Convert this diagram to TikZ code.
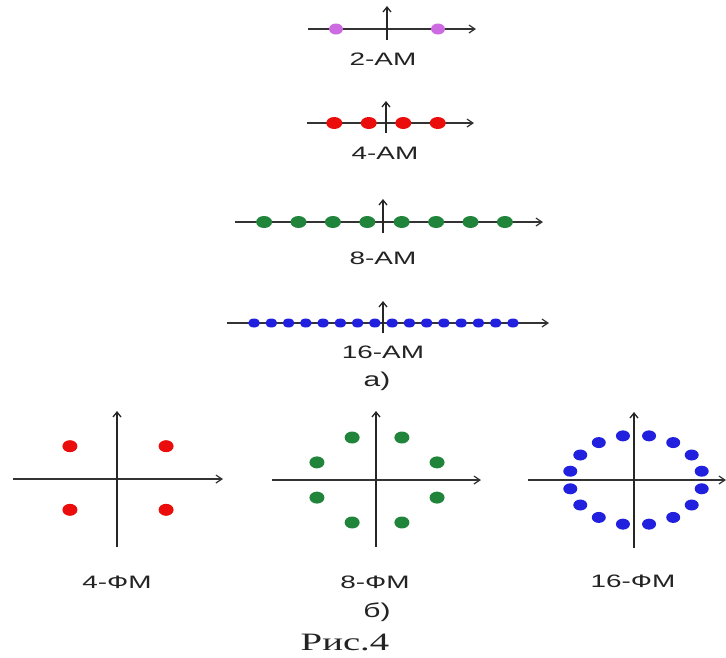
\documentclass[tikz,border=0pt]{standalone}
\usepackage{fontspec}
\setmainfont{Liberation Serif}
\setsansfont{Liberation Sans}
\usetikzlibrary{arrows.meta}
\definecolor{amviolet}{RGB}{205,105,225}
\definecolor{amred}{RGB}{235,12,12}
\definecolor{amgreen}{RGB}{32,132,58}
\definecolor{amblue}{RGB}{32,32,222}
\definecolor{txtgray}{RGB}{35,35,35}
\newcommand\widetxt[2]{\scalebox{#1}[1]{#2}}
\tikzset{
  vaxis/.style={line width=2.1pt, draw=black!85, -{Straight Barb[length=5pt,width=8pt,line width=1.3pt]}},
  haxis/.style={line width=1.3pt, draw=black!80, -{Straight Barb[length=6pt,width=8pt,line width=1.2pt]}},
  lbl/.style={font=\sffamily\fontsize{18}{18}\selectfont, text=txtgray, inner sep=0pt},
  sublbl/.style={font=\sffamily\fontsize{20}{20}\selectfont, text=txtgray, inner sep=0pt},
  caplbl/.style={font=\rmfamily\fontsize{25}{25}\selectfont, text=txtgray, inner sep=0pt},
}
\begin{document}
\begin{tikzpicture}[x=1pt,y=-1pt]
\useasboundingbox (0,0) rectangle (726,657);
% ---------- 2-AM ----------
\coordinate (h2l) at (308,29); \coordinate (h2r) at (476,29);
\coordinate (v2b) at (387,40); \coordinate (v2t) at (387,6);
\draw[haxis] (h2l) -- (h2r);
\foreach \i in {-1,1} \fill[amviolet] ({387+51*\i},29) ellipse [x radius=7pt, y radius=5.5pt];
\draw[vaxis] (v2b) -- (v2t);
\node[lbl] (l2) at (383,59) {\widetxt{1.55}{2-AM}};
% ---------- 4-AM ----------
\coordinate (h4l) at (307,123); \coordinate (h4r) at (474,123);
\coordinate (v4b) at (386,133); \coordinate (v4t) at (386,101);
\draw[haxis] (h4l) -- (h4r);
\foreach \i in {-3,-1,1,3} \fill[amred] ({386+17.25*\i},123) ellipse [x radius=8pt, y radius=6pt];
\draw[vaxis] (v4b) -- (v4t);
\node[lbl] (l4) at (385,153) {\widetxt{1.55}{4-AM}};
% ---------- 8-AM ----------
\coordinate (h8l) at (235,222); \coordinate (h8r) at (543,222);
\coordinate (v8b) at (383,233); \coordinate (v8t) at (383,199);
\draw[haxis] (h8l) -- (h8r);
\foreach \i in {-7,-5,-3,-1,1,3,5,7} \fill[amgreen] ({384.5+17.2*\i},222) ellipse [x radius=8pt, y radius=6pt];
\draw[vaxis] (v8b) -- (v8t);
\node[lbl] (l8) at (383,258) {\widetxt{1.55}{8-AM}};
% ---------- 16-AM ----------
\coordinate (h16l) at (227,323); \coordinate (h16r) at (549,323);
\coordinate (v16b) at (383,333); \coordinate (v16t) at (383,301);
\draw[haxis] (h16l) -- (h16r);
\foreach \i in {-15,-13,...,15} \fill[amblue] ({383.5+8.63*\i},323) ellipse [x radius=6pt, y radius=4.5pt];
\draw[vaxis] (v16b) -- (v16t);
\node[lbl] (l16) at (383,352) {\widetxt{1.55}{16-AM}};
\node[sublbl] (sa) at (377,381) {\widetxt{1.5}{а)}};
% ---------- 4-PSK ----------
\coordinate (p4l) at (13,479); \coordinate (p4r) at (223,479);
\coordinate (p4b) at (117,547); \coordinate (p4t) at (117,411);
\draw[haxis] (p4l) -- (p4r);
\draw[vaxis] (p4b) -- (p4t);
\foreach \a in {45,135,225,315} \fill[amred] ({118+68*cos(\a)},{478+45*sin(\a)}) ellipse [x radius=7.5pt, y radius=6pt];
\node[lbl] (f4) at (117,582) {\widetxt{1.55}{4-ФМ}};
% ---------- 8-PSK ----------
\coordinate (p8l) at (272,480); \coordinate (p8r) at (481,480);
\coordinate (p8b) at (376,547); \coordinate (p8t) at (376,411);
\draw[haxis] (p8l) -- (p8r);
\draw[vaxis] (p8b) -- (p8t);
\foreach \k in {0,...,7} \fill[amgreen] ({377+65*cos(22.5+45*\k)},{480+46*sin(22.5+45*\k)}) ellipse [x radius=7.5pt, y radius=6pt];
\node[lbl] (f8) at (375,582) {\widetxt{1.55}{8-ФМ}};
% ---------- 16-PSK ----------
\coordinate (p16l) at (528,480); \coordinate (p16r) at (726,480);
\coordinate (p16b) at (634,548); \coordinate (p16t) at (634,412);
\draw[haxis] (p16l) -- (p16r);
\draw[vaxis] (p16b) -- (p16t);
\foreach \k in {0,...,15} \fill[amblue] ({636+67*cos(11.25+22.5*\k)},{480+45*sin(11.25+22.5*\k)}) ellipse [x radius=7pt, y radius=5.5pt];
\node[lbl] (f16) at (633,581) {\widetxt{1.55}{16-ФМ}};
\node[sublbl] (sb) at (377,612) {\widetxt{1.5}{б)}};
\node[caplbl] (cap) at (345,642) {\widetxt{1.55}{Рис.4}};
\end{tikzpicture}
\end{document}
